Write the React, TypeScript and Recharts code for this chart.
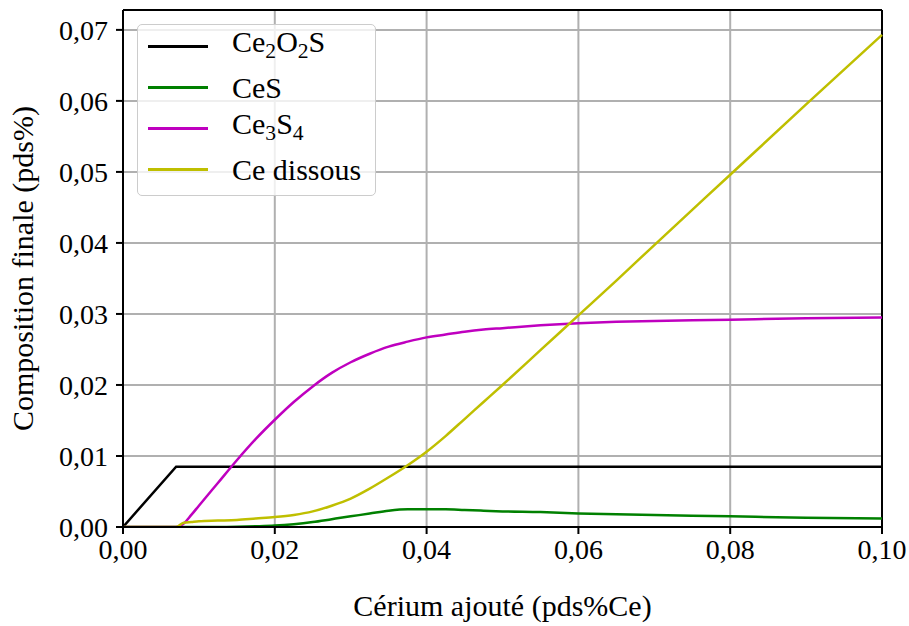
import React from "react";
import { LineChart, Line, XAxis, YAxis, CartesianGrid, Legend, ReferenceLine } from "recharts";

// Cérium ajouté (pds%Ce)
const ceriumAdded = [
  0, 0.007, 0.008, 0.009, 0.01, 0.0125, 0.015, 0.0175, 0.02, 0.0225, 0.025, 0.0275, 0.03, 0.0325,
  0.035, 0.0375, 0.04, 0.0425, 0.045, 0.0475, 0.05, 0.055, 0.06, 0.065, 0.07, 0.08, 0.09, 0.1,
];
const ce2o2s = [
  0, 0.0085, 0.0085, 0.0085, 0.0085, 0.0085, 0.0085, 0.0085, 0.0085, 0.0085, 0.0085, 0.0085, 0.0085, 0.0085,
  0.0085, 0.0085, 0.0085, 0.0085, 0.0085, 0.0085, 0.0085, 0.0085, 0.0085, 0.0085, 0.0085, 0.0085, 0.0085, 0.0085,
];
const ces = [
  0, 0, 0, 0, 0, 0, 0.00003, 0.0001, 0.0002, 0.0004, 0.0007, 0.0011, 0.0015, 0.0019,
  0.0023, 0.0025, 0.0025, 0.0025, 0.0024, 0.0023, 0.0022, 0.0021, 0.0019, 0.0018, 0.0017, 0.0015, 0.0013, 0.0012,
];
const ce3s4 = [
  0, 0, 0.0005, 0.0017, 0.003, 0.0062, 0.0094, 0.0124, 0.0151, 0.0176, 0.0198, 0.0217, 0.0232, 0.0244,
  0.0254, 0.0261, 0.0267, 0.0271, 0.0275, 0.0278, 0.028, 0.0284, 0.0287, 0.0289, 0.029, 0.0292, 0.0294, 0.0295,
];
const ceDissous = [
  0, 0, 0.0006, 0.0007, 0.0008, 0.0009, 0.001, 0.0012, 0.0014, 0.0017, 0.0022, 0.003, 0.004, 0.0054,
  0.007, 0.0087, 0.0106, 0.0128, 0.0152, 0.0176, 0.02, 0.0249, 0.0298, 0.0347, 0.0397, 0.0496, 0.0595, 0.0693,
];

const xTicks = [0, 0.02, 0.04, 0.06, 0.08, 0.1];
const yTicks = [0, 0.01, 0.02, 0.03, 0.04, 0.05, 0.06, 0.07];
const yMax = 0.0728;

const data = ceriumAdded.map((x, i) => ({
  x,
  ce2o2s: ce2o2s[i],
  ces: ces[i],
  ce3s4: ce3s4[i],
  ceDissous: ceDissous[i],
}));

const FONT = "Liberation Serif, DejaVu Serif, serif";
const fmt = (v: number) => v.toFixed(2).replace(".", ",");

const sub = (s: string) => (
  <span style={{ fontSize: "0.72em", verticalAlign: "-6px" }}>{s}</span>
);

const legendRows = [
  { color: "#000000", label: <>Ce{sub("2")}O{sub("2")}S</> },
  { color: "#008000", label: <>CeS</> },
  { color: "#bf00bf", label: <>Ce{sub("3")}S{sub("4")}</> },
  { color: "#bfbf00", label: <>Ce dissous</> },
];

function LegendBox() {
  return (
    <div
      style={{
        background: "rgba(255,255,255,0.8)",
        border: "1.5px solid #cccccc",
        borderRadius: 5,
        padding: "1px 14px 5px 10px",
        fontFamily: FONT,
        fontSize: 30,
        color: "#000",
      }}
    >
      {legendRows.map((r, i) => (
        <div key={i} style={{ display: "flex", alignItems: "center", height: 41 }}>
          <div style={{ width: 60, height: 2.5, background: r.color, marginRight: 24 }} />
          <span style={{ lineHeight: "30px", whiteSpace: "nowrap" }}>{r.label}</span>
        </div>
      ))}
    </div>
  );
}

export default function App() {
  const tickStyle = { fill: "#000", fontSize: 28, fontFamily: FONT };
  return (
    <div style={{ position: "absolute", left: 0, top: 0, background: "#fff", fontFamily: FONT }}>
      <LineChart width={909} height={626} data={data} margin={{ top: 10, right: 27, left: 0, bottom: 0 }}>
        <CartesianGrid stroke="#b0b0b0" strokeWidth={2} />
        <XAxis
          dataKey="x"
          type="number"
          domain={[0, 0.1]}
          ticks={xTicks}
          tickFormatter={fmt}
          height={99}
          tick={tickStyle}
          tickSize={7}
          tickMargin={5}
          axisLine={{ stroke: "#000", strokeWidth: 2 }}
          tickLine={{ stroke: "#000", strokeWidth: 2 }}
          label={{ value: "Cérium ajouté (pds%Ce)", position: "insideBottom", offset: 10, style: { fill: "#000", fontSize: 30, fontFamily: FONT } }}
        />
        <YAxis
          type="number"
          domain={[0, yMax]}
          allowDataOverflow
          ticks={yTicks}
          tickFormatter={fmt}
          width={123}
          tick={tickStyle}
          tickSize={7}
          tickMargin={8}
          axisLine={{ stroke: "#000", strokeWidth: 2 }}
          tickLine={{ stroke: "#000", strokeWidth: 2 }}
          label={{ value: "Composition finale (pds%)", angle: -90, position: "insideLeft", offset: 22, style: { fill: "#000", fontSize: 30, fontFamily: FONT, textAnchor: "middle" } }}
        />
        <ReferenceLine y={yMax} stroke="#000" strokeWidth={2} />
        <ReferenceLine x={0.1} stroke="#000" strokeWidth={2} />
        <Line type="linear" dataKey="ce2o2s" stroke="#000000" strokeWidth={2.5} dot={false} isAnimationActive={false} />
        <Line type="monotone" dataKey="ces" stroke="#008000" strokeWidth={2.5} dot={false} isAnimationActive={false} />
        <Line type="monotone" dataKey="ce3s4" stroke="#bf00bf" strokeWidth={2.5} dot={false} isAnimationActive={false} />
        <Line type="monotone" dataKey="ceDissous" stroke="#bfbf00" strokeWidth={2.5} dot={false} isAnimationActive={false} />
        <Legend
          layout="vertical"
          align="center"
          verticalAlign="middle"
          content={() => <LegendBox />}
          wrapperStyle={{ left: 137, top: 24, width: "auto" }}
        />
      </LineChart>
    </div>
  );
}
